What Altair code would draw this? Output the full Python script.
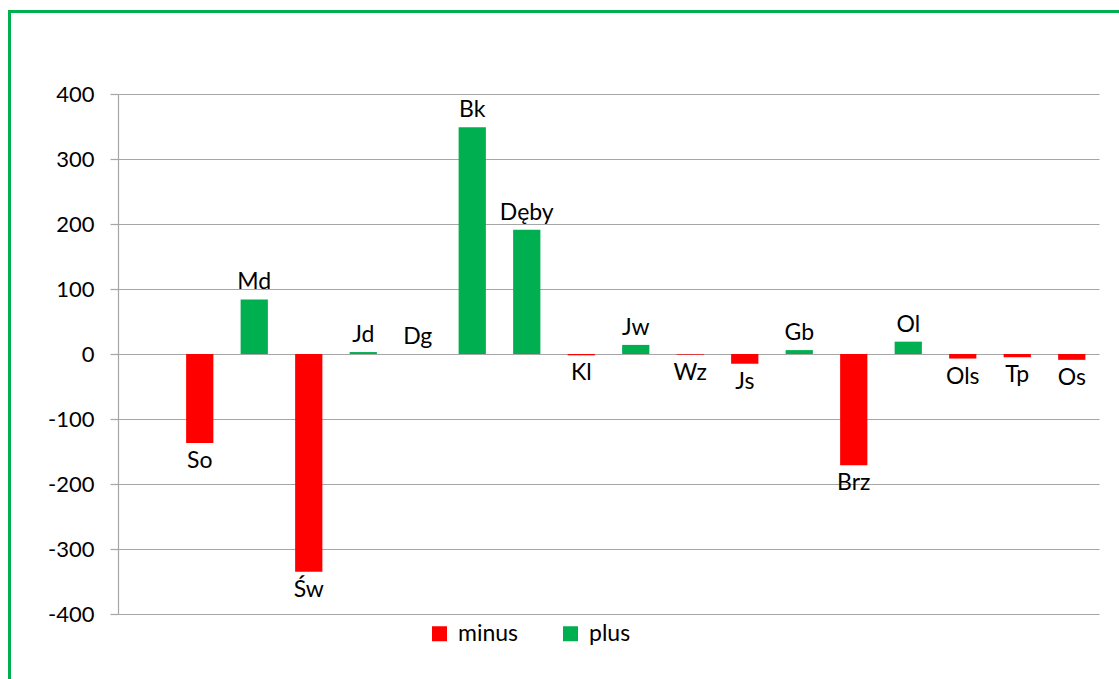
import altair as alt
import pandas as pd

# Sites in drawing order; the first slot of the axis is left empty
sites = ["So", "Md", "Św", "Jd", "Dg", "Bk", "Dęby", "Kl", "Jw",
         "Wz", "Js", "Gb", "Brz", "Ol", "Ols", "Tp", "Os"]
values = [-137, 84, -335, 3, 0, 349, 191, -2, 14,
          -1, -15, 6, -171, 19, -7, -5, -9]
series_names = ["minus", "plus"]
series_colors = ["#ff0000", "#00b050"]
y_ticks = [-400, -300, -200, -100, 0, 100, 200, 300, 400]

df = pd.DataFrame({"site": sites, "value": values})
df["series"] = ["plus" if v >= 0 else "minus" for v in values]

FONT = "Lato"
GRID = "#a6a6a6"
domain = [" "] + sites

x_enc = alt.X("site:N", scale=alt.Scale(domain=domain, paddingInner=0.5, paddingOuter=0.25),
              axis=None)
y_scale = alt.Scale(domain=[-400, 400], nice=False)

bars = alt.Chart(df).mark_bar().encode(
    x=x_enc,
    y=alt.Y("value:Q", scale=y_scale,
            axis=alt.Axis(values=y_ticks, title=None, grid=True, gridColor=GRID,
                          gridWidth=1.2, domainColor=GRID, domainWidth=1.2,
                          tickColor=GRID, tickSize=8, tickWidth=1.2,
                          labelExpr="datum.value < 0 ? '-' + abs(datum.value) : '' + datum.value",
                          labelFont=FONT, labelFontSize=22, labelColor="#000000",
                          labelPadding=16)),
    y2=alt.datum(0),
    color=alt.Color("series:N",
                    scale=alt.Scale(domain=series_names, range=series_colors),
                    legend=alt.Legend(title=None, orient="none", direction="horizontal",
                                      legendX=310, legendY=528, symbolType="square",
                                      symbolSize=225, symbolStrokeWidth=0,
                                      labelFont=FONT, labelFontSize=23,
                                      labelColor="#000000", labelOffset=7,
                                      columnPadding=40)),
)

label_up = alt.Chart(df).transform_filter("datum.value >= 0").mark_text(
    font=FONT, fontSize=23, color="#000000", baseline="alphabetic", dy=-10
).encode(x=x_enc, y=alt.Y("value:Q", scale=y_scale), text="site:N")

label_down = alt.Chart(df).transform_filter("datum.value < 0").mark_text(
    font=FONT, fontSize=23, color="#000000", baseline="top", dy=7
).encode(x=x_enc, y=alt.Y("value:Q", scale=y_scale), text="site:N")

# Green frame along the left and top edges of the page
frame_left = alt.Chart(df).mark_rule(color="#00b050", strokeWidth=3).encode(
    x=alt.value(-108.5), y=alt.value(-83), y2=alt.value(600))
frame_top = alt.Chart(df).mark_rule(color="#00b050", strokeWidth=3).encode(
    x=alt.value(-110), x2=alt.value(1010), y=alt.value(-82.5))

chart = alt.layer(bars, label_up, label_down, frame_left, frame_top).properties(
    width=981, height=520,
    autosize=alt.AutoSizeParams(type="none"),
    padding={"left": 118, "top": 94, "right": 20, "bottom": 65},
    background="#ffffff",
).configure_view(stroke=None)

chart.save("out.html", embed_options={"renderer": "svg", "actions": False})
